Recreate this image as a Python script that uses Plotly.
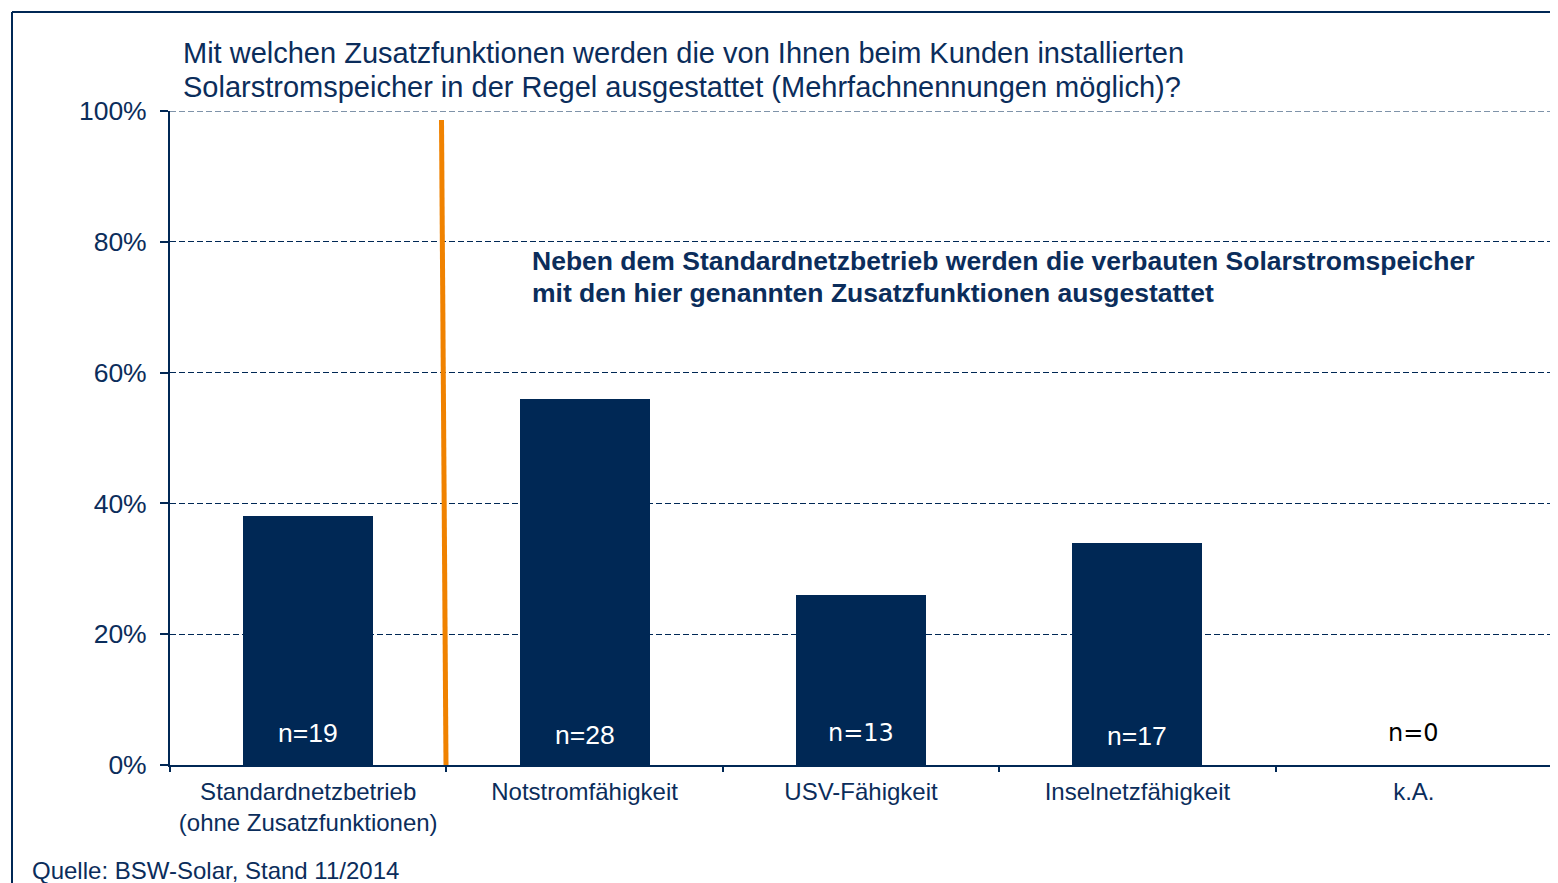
import plotly.graph_objects as go

categories = ["Standardnetzbetrieb<br>(ohne Zusatzfunktionen)", "Notstromfähigkeit",
              "USV-Fähigkeit", "Inselnetzfähigkeit", "k.A."]
values = [38, 56, 26, 34, 0]
n_labels = ["n=19", "n=28", "n=13", "n=17", "n=0"]
n_label_y = [4.82, 4.59, 4.82, 4.36, 4.82]
y_ticks = [0, 20, 40, 60, 80, 100]
y_tick_text = ["0%", "20%", "40%", "60%", "80%", "100%"]
title_lines = ["Mit welchen Zusatzfunktionen werden die von Ihnen beim Kunden installierten",
               "Solarstromspeicher in der Regel ausgestattet (Mehrfachnennungen möglich)?"]
note_lines = ["Neben dem Standardnetzbetrieb werden die verbauten Solarstromspeicher",
              "mit den hier genannten Zusatzfunktionen ausgestattet"]
source_text = "Quelle: BSW-Solar, Stand 11/2014"

NAVY = "#002855"
TEXT = "#0b2d5b"
ORANGE = "#f08200"
FONT = "Liberation Sans, Arial, sans-serif"

OFF = 8  # page body margin
W, H = 1558 - OFF, 883 - OFF
ML = 170 - OFF
MT = 111 - OFF
MR = W - (1552 - OFF)
MB = H - (765 - OFF)
PW, PH = W - ML - MR, H - MT - MB


def px(x):  # screen px -> paper
    return (x - OFF - ML) / PW


def py(y):
    return (H - MB - (y - OFF)) / PH


fig = go.Figure()
fig.add_trace(go.Bar(x=categories, y=values, width=0.47, marker_color=NAVY,
                     marker_line_width=0, hoverinfo="skip"))

label_fonts = ["Liberation Sans", "Liberation Sans", "DejaVu Sans", "Liberation Sans", "DejaVu Sans"]
label_sizes = [26.5, 26.5, 24, 26.5, 24]
label_colors = ["white", "white", "white", "white", "black"]
for c, t, yy, f, s, col in zip(categories, n_labels, n_label_y, label_fonts, label_sizes, label_colors):
    fig.add_annotation(x=c, y=yy, text=t, showarrow=False, xref="x", yref="y", yanchor="middle",
                       font=dict(family=f, size=s, color=col))

# title (two lines, positioned individually to match line spacing)
for line, ymid in zip(title_lines, [53, 87]):
    fig.add_annotation(xref="paper", yref="paper", x=px(181), y=py(ymid), xanchor="left",
                       yanchor="middle", showarrow=False, text=line,
                       font=dict(family=FONT, size=29, color=TEXT))
# note
for line, ymid in zip(note_lines, [261, 293]):
    fig.add_annotation(xref="paper", yref="paper", x=px(530), y=py(ymid), xanchor="left",
                       yanchor="middle", showarrow=False, text="<b>" + line + "</b>",
                       font=dict(family=FONT, size=26.5, color=TEXT))
# source
fig.add_annotation(xref="paper", yref="paper", x=px(30), y=py(870), xanchor="left",
                   yanchor="middle", showarrow=False, text=source_text,
                   font=dict(family=FONT, size=24, color=TEXT))

shapes = [
    dict(type="line", xref="paper", yref="paper", x0=px(12), x1=px(1600), y0=py(12), y1=py(12),
         line=dict(color=NAVY, width=2)),
    dict(type="line", xref="paper", yref="paper", x0=px(12), x1=px(12), y0=py(12), y1=py(920),
         line=dict(color=NAVY, width=2)),
    # dashed gridline at the top (100%)
    dict(type="line", xref="paper", yref="y", x0=0, x1=1, y0=y_ticks[-1], y1=y_ticks[-1],
         line=dict(color=NAVY, width=1, dash="6px,3px"), layer="below"),
    dict(type="line", xref="paper", yref="paper", x0=px(441.5), x1=px(446), y0=py(120), y1=py(765),
         line=dict(color=ORANGE, width=5)),
]
fig.update_layout(shapes=shapes)

fig.update_layout(
    width=W, height=H, margin=dict(l=ML, r=MR, t=MT, b=MB, pad=0),
    paper_bgcolor="white", plot_bgcolor="white", showlegend=False,
    bargap=0,
    font=dict(family=FONT, color=TEXT),
    xaxis=dict(showgrid=False, showline=True, linecolor=NAVY, linewidth=2,
               ticks="outside", tickson="boundaries", ticklen=5, tickcolor=NAVY, tickwidth=2,
               ticklabelstandoff=4,
               tickfont=dict(size=24, color=TEXT, family=FONT), fixedrange=True),
    yaxis=dict(range=[0, 100], tickvals=y_ticks, ticktext=y_tick_text,
               showgrid=True, gridcolor=NAVY, gridwidth=1, griddash="6px,3px",
               showline=True, linecolor=NAVY, linewidth=2,
               ticks="outside", ticklen=8, tickcolor=NAVY, tickwidth=2,
               ticklabelstandoff=8,
               tickfont=dict(size=26.5, color=TEXT, family=FONT), zeroline=False, fixedrange=True),
)

fig.write_html("out.html")
